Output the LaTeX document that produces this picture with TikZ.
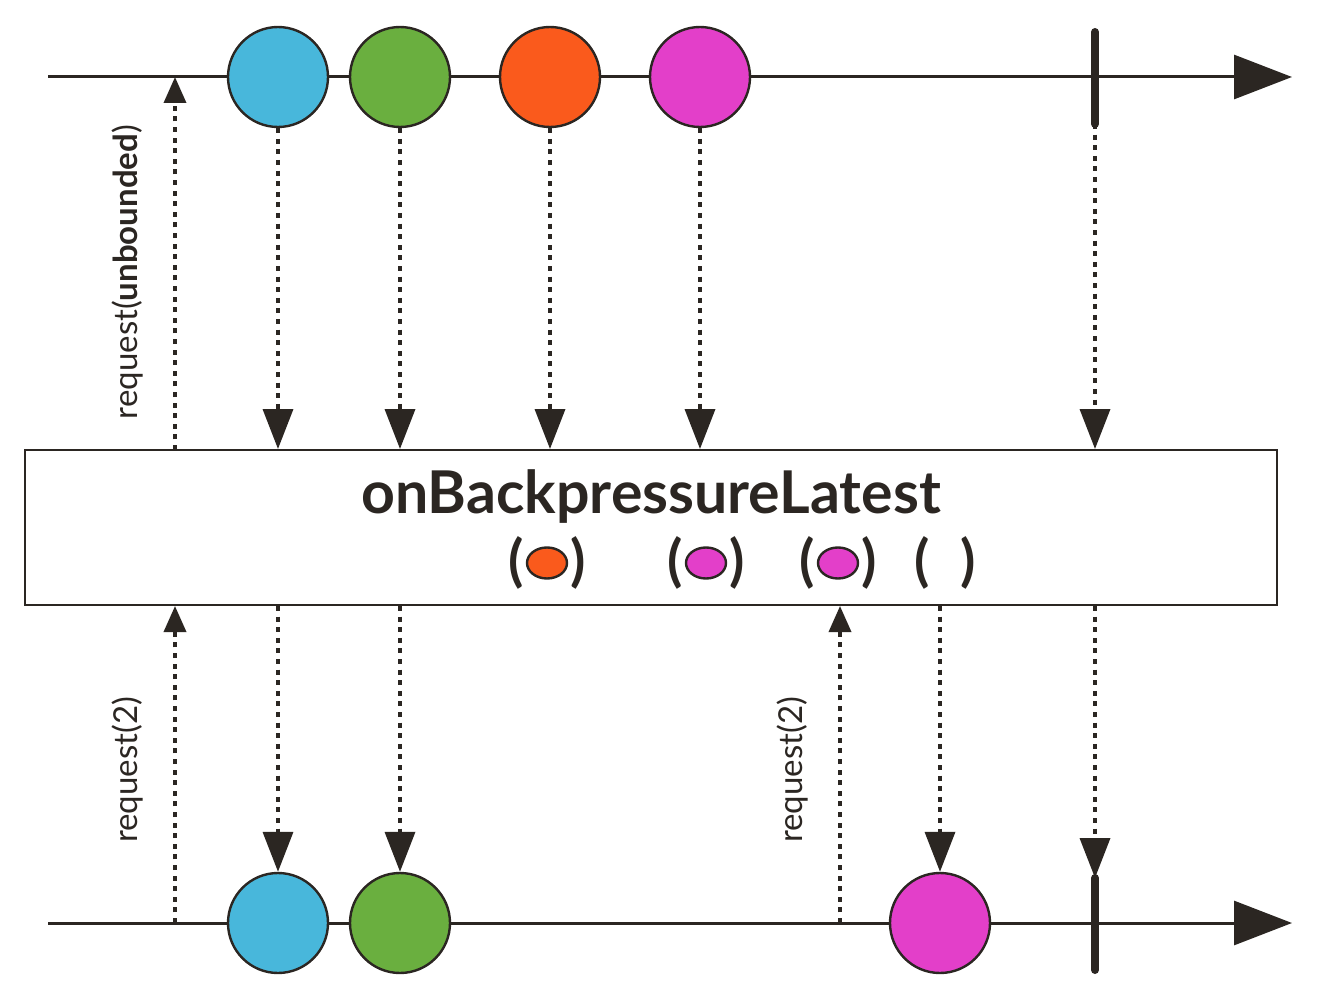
\documentclass[tikz,border=0pt]{standalone}
\usepackage{fontspec}
\setmainfont{Lato}
\usetikzlibrary{arrows.meta,shapes.geometric}
\definecolor{ink}{HTML}{2B2622}
\definecolor{cblue}{HTML}{48B7DB}
\definecolor{cgreen}{HTML}{6AAF3F}
\definecolor{corange}{HTML}{FA5A1C}
\definecolor{cmag}{HTML}{E33FC9}
\tikzset{
  axis/.style={draw=ink,line width=1.5pt,-{Triangle[width=22pt,length=29pt]}},
  marble/.style={circle,draw=ink,line width=1.2pt,minimum size=50pt,inner sep=0pt},
  done/.style={draw=ink,line width=4pt,line cap=round},
  flow/.style={draw=ink,line width=1.8pt,dash pattern=on 2.5pt off 2.8pt,-{Triangle[width=15pt,length=20pt]}},
  req/.style={draw=ink,line width=1.8pt,dash pattern=on 2.5pt off 2.8pt,-{Triangle[width=11pt,length=13pt]}},
  lbl/.style={font=\fontsize{16.5}{18}\selectfont,text=ink,rotate=90,inner sep=0pt},
  par/.style={font=\bfseries\fontsize{28}{30}\selectfont,text=ink,inner sep=0pt},
  buf/.style={ellipse,draw=ink,line width=1.2pt,minimum width=20pt,minimum height=15.5pt,inner sep=0pt}
}
\begin{document}
\begin{tikzpicture}[x=0.5pt,y=-0.5pt]
\useasboundingbox (0,0) rectangle (1334,1006);
% box
\node[draw=ink,line width=1pt,minimum width=626pt,minimum height=77.5pt,inner sep=0pt] (box) at (651,527.5) {};
\node[font=\bfseries\fontsize{29.5}{31}\selectfont,text=ink] (title) at (651,497) {onBackpressureLatest};
% buffer symbols
\node[buf,fill=corange] (b1) at (547,563) {};
\node[par] (b1l) at (516,563) {(};
\node[par] (b1r) at (578,563) {)};
\node[buf,fill=cmag] (b2) at (706,563) {};
\node[par] (b2l) at (675,563) {(};
\node[par] (b2r) at (737,563) {)};
\node[buf,fill=cmag] (b3) at (838,563) {};
\node[par] (b3l) at (807,563) {(};
\node[par] (b3r) at (869,563) {)};
\node[par] (b4l) at (922,563) {(};
\node[par] (b4r) at (968,563) {)};
% top line
\coordinate (ts) at (48,77);
\coordinate (te) at (1292,77);
\draw[axis] (ts) -- (te);
\node[marble,fill=cblue] (t1) at (278,77) {};
\node[marble,fill=cgreen] (t2) at (400,77) {};
\node[marble,fill=corange] (t3) at (550,77) {};
\node[marble,fill=cmag] (t4) at (700,77) {};
\coordinate (tc1) at (1095,32);
\coordinate (tc2) at (1095,124);
\draw[done] (tc1) -- (tc2);
% bottom line
\coordinate (bs) at (48,923);
\coordinate (be) at (1292,923);
\draw[axis] (bs) -- (be);
\node[marble,fill=cblue] (u1) at (278,923) {};
\node[marble,fill=cgreen] (u2) at (400,923) {};
\node[marble,fill=cmag] (u3) at (940,923) {};
\coordinate (uc1) at (1095,878);
\coordinate (uc2) at (1095,970);
\draw[done] (uc1) -- (uc2);
% top flows
\draw[flow] (t1.south) -- (t1.south |- box.north);
\draw[flow] (t2.south) -- (t2.south |- box.north);
\draw[flow] (t3.south) -- (t3.south |- box.north);
\draw[flow] (t4.south) -- (t4.south |- box.north);
\draw[flow] (tc2) -- (tc2 |- box.north);
\coordinate (r1) at (175,450);
\draw[req] (r1) -- (r1 |- ts);
\node[lbl] (l1) at (128,272) {request(\textbf{unbounded})};
% bottom flows
\draw[flow] (t1.south |- box.south) -- (u1.north);
\draw[flow] (t2.south |- box.south) -- (u2.north);
\draw[flow] (u3.north |- box.south) -- (u3.north);
\draw[flow] (uc1 |- box.south) -- (uc1);
\coordinate (r2) at (175,923);
\draw[req] (r2) -- (r2 |- box.south);
\node[lbl] (l2) at (128,770) {request(2)};
\coordinate (r3) at (840,923);
\draw[req] (r3) -- (r3 |- box.south);
\node[lbl] (l3) at (793,770) {request(2)};
\end{tikzpicture}
\end{document}
